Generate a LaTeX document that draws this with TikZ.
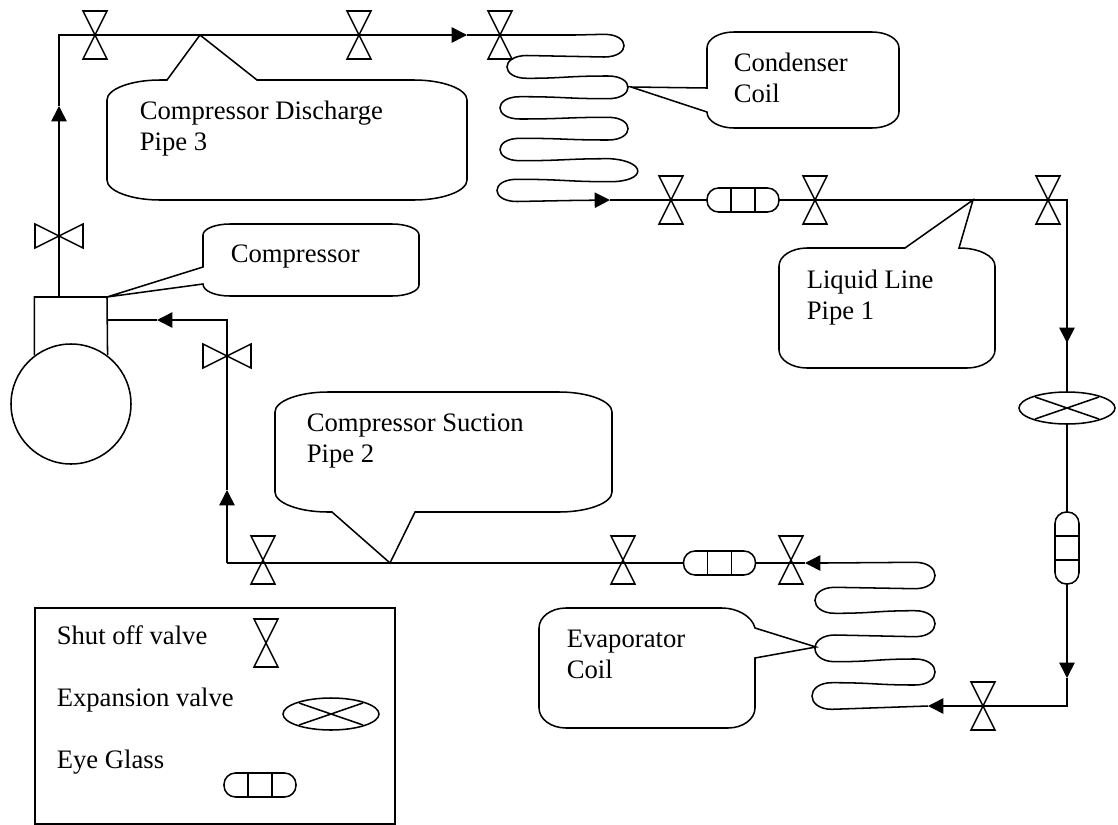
\documentclass[tikz,border=0pt]{standalone}
\usepackage{fontspec}
\setmainfont{Liberation Serif}
\usetikzlibrary{arrows.meta,shapes.geometric,calc}

\tikzset{
  every picture/.style={line width=1.15pt},
  pipe/.style={draw,line join=miter},
  flow/.style={-{Triangle[length=11.5pt,width=11.5pt]}},
  balloontext/.style={anchor=north west,inner sep=0pt,align=left,font=\fontsize{20}{23.25}\selectfont},
  shutv/.pic={\draw (-12,-24) -- (12,-24) -- (-12,24) -- (12,24) -- cycle;},
  eyeglass/.pic={\draw[fill=white,rounded corners=8.6pt] (-36,-12) rectangle (36,12);
    \draw (-12,-12) -- (-12,12) (12,-12) -- (12,12);},
  expv/.pic={\draw[fill=white] (0,0) ellipse [x radius=48,y radius=16];
    \draw (-32,-11) -- (32,11) (-32,11) -- (32,-11);}
}

\begin{document}
\begin{tikzpicture}[x=0.75pt,y=0.75pt,yscale=-1,xscale=1]
\useasboundingbox (0,0) rectangle (1118,825);

%Valves and fittings on the loop
\coordinate (vDisA) at (59,236);
\coordinate (vTopA) at (95,35);
\coordinate (vTopB) at (359,35);
\coordinate (vTopC) at (500,35);
\coordinate (vLiqA) at (671,200);
\coordinate (eyeLiq) at (743,200);
\coordinate (vLiqB) at (815,200);
\coordinate (vLiqC) at (1048,200);
\coordinate (cornerTR) at (1067,200);
\coordinate (expIn) at (1067,408);
\coordinate (eyeRight) at (1067,548);
\coordinate (cornerBR) at (1067,706);
\coordinate (vEvaIn) at (983,706);
\coordinate (vEvaOut) at (791,563);
\coordinate (eyeSuc) at (719.5,563);
\coordinate (vSucA) at (623,563);
\coordinate (vSucB) at (263,563);
\coordinate (cornerBL) at (227,563);
\coordinate (vSucC) at (227,356);
\coordinate (cornerSuc) at (227,320);
\coordinate (compIn) at (107,320);
\coordinate (compOut) at (59,297);
\coordinate (cornerTL) at (59,35);

%Flow arrow points
\coordinate (tipUp) at (59,106);
\coordinate (tipTop) at (467,35);
\coordinate (tipCond) at (610,200);
\coordinate (tipLiq) at (1067,343);
\coordinate (tipRight) at (1067,678);
\coordinate (tipEvaIn) at (928,706);
\coordinate (tipEvaOut) at (805,563);
\coordinate (tipSuc) at (227,490);
\coordinate (tipComp) at (157,320);

%Compressor
\node[draw,circle,minimum size=90pt,inner sep=0pt] (comp) at (71,404) {};
\coordinate (boxTR) at (107,297);
\draw[pipe] (comp.127) |- (boxTR) -- (comp.53);

%Discharge line
\draw[pipe,flow] (compOut) -- (tipUp);
\draw[pipe,flow] (tipUp) -- (cornerTL) -- (tipTop);
\draw[pipe] (tipTop) -- (vTopC);

%Condenser coil
\draw[pipe] (vTopC) -- (575,35) -- (604,34.3) .. controls (630.7,34.3) and (630.7,57) .. (604,57)
  .. controls (565,57) and (565,55.5) .. (527,55.5) .. controls (500.3,55.5) and (500.3,78.3) .. (527,78.3)
  .. controls (565,78.3) and (565,76) .. (608,76) .. controls (634.7,76) and (634.7,98.7) .. (608,98.7)
  .. controls (565,98.7) and (565,96.7) .. (520,96.7) .. controls (493.3,96.7) and (493.3,119) .. (520,119)
  .. controls (565,119) and (565,117.3) .. (608,117.3) .. controls (634.7,117.3) and (634.7,140) .. (608,140)
  .. controls (565,140) and (565,138.3) .. (520,138.3) .. controls (493.3,138.3) and (493.3,160.7) .. (520,160.7)
  .. controls (565,160.7) and (565,158.7) .. (610,158.7) .. controls (647,161) and (647,181.7) .. (610,181.7)
  .. controls (565,181.7) and (565,179.3) .. (517,179.3) .. controls (490.3,179.3) and (490.3,201.5) .. (517,201.5) -- (570,200.5);
\draw[pipe,flow] (570,200.5) -- (tipCond);

%Liquid line
\draw[pipe] (tipCond) -- (vLiqA) -- (eyeLiq) -- (vLiqB) -- (vLiqC) -- (cornerTR) -- (expIn);
\draw[pipe,flow] (cornerTR) -- (tipLiq);
\draw[pipe] (expIn) -- (eyeRight);
\draw[pipe,flow] (eyeRight) -- (tipRight);
\draw[pipe,flow] (tipRight) -- (cornerBR) -- (tipEvaIn);

%Evaporator coil
\draw[pipe] (tipEvaIn) -- (832,709.3) .. controls (805.3,709.3) and (805.3,682.7) .. (832,682.7)
  .. controls (875,682.7) and (875,685) .. (915,685) .. controls (941.7,685) and (941.7,659) .. (915,659)
  .. controls (875,659) and (875,661.7) .. (835,661.7) .. controls (808.3,661.7) and (808.3,635) .. (835,635)
  .. controls (875,635) and (875,636.7) .. (915,636.7) .. controls (941.7,636.7) and (941.7,610.7) .. (915,610.7)
  .. controls (875,610.7) and (875,613.3) .. (835,613.3) .. controls (808.3,613.3) and (808.3,587.3) .. (835,587.3)
  .. controls (875,587.3) and (875,588.7) .. (915,588.7) .. controls (941.7,588.7) and (941.7,562.3) .. (915,562.3) -- (825,563);
\draw[pipe,flow] (825,563) -- (tipEvaOut);

%Suction line
\draw[pipe] (tipEvaOut) -- (vEvaOut) -- (eyeSuc) -- (vSucA) -- (vSucB) -- (cornerBL);
\draw[pipe,flow] (cornerBL) -- (tipSuc);
\draw[pipe,flow] (tipSuc) -- (cornerSuc) -- (tipComp);
\draw[pipe] (tipComp) -- (compIn);

%Shape: Shut off valves
\foreach \v in {vTopA,vTopB,vTopC,vLiqA,vLiqB,vLiqC}
  \pic at (\v) {shutv};
\pic at (vEvaIn) {shutv};
\pic at ($(vEvaOut)+(0,-3)$) {shutv};
\pic at ($(vSucA)+(0,-3)$) {shutv};
\pic at ($(vSucB)+(0,-3)$) {shutv};
\pic[rotate=90] at (vDisA) {shutv};
\pic[rotate=90] at (vSucC) {shutv};

%Shape: Eye glasses and expansion valve
\pic at (eyeLiq) {eyeglass};
\pic at (eyeSuc) {eyeglass};
\pic[rotate=90] at (eyeRight) {eyeglass};
\pic at (expIn) {expv};

%Shape: Callouts
\coordinate (ptDis) at (200,35);
\draw (ptDis) -- (257,80) -- (414,80) .. controls (443,80) and (467,89) .. (467,100) -- (467,180)
  .. controls (467,191) and (443,200) .. (414,200) -- (160,200) .. controls (131,200) and (107,191) .. (107,180)
  -- (107,100) .. controls (107,89) and (131,80) .. (160,80) -- (167,80) -- cycle;
\coordinate (ptCond) at (631,87);
\draw (ptCond) -- (707,88) -- (707,48) .. controls (707,39) and (719,32) .. (734,32) -- (872,32)
  .. controls (887,32) and (899,39) .. (899,48) -- (899,112) .. controls (899,121) and (887,128) .. (872,128)
  -- (734,128) .. controls (719,128) and (707,121) .. (707,112) -- cycle;
\coordinate (ptLiq) at (973,200);
\draw (ptLiq) -- (959,248) .. controls (979,248) and (995,256) .. (995,266) -- (995,350)
  .. controls (995,360) and (982,368) .. (967,368) -- (807,368) .. controls (792,368) and (779,360) .. (779,350)
  -- (779,266) .. controls (779,256) and (792,248) .. (807,248) -- (905,248) -- cycle;
\coordinate (ptComp) at (107,297);
\draw (ptComp) -- (203,267) -- (203,235) .. controls (203,229) and (215,224) .. (230,224) -- (392,224)
  .. controls (407,224) and (419,229) .. (419,235) -- (419,285) .. controls (419,291) and (407,296) .. (392,296)
  -- (230,296) .. controls (215,296) and (203,291) .. (203,284) -- cycle;
\coordinate (ptSuc) at (390,563);
\draw (ptSuc) -- (332,512) -- (328,512) .. controls (299,512) and (275,503) .. (275,492) -- (275,412)
  .. controls (275,401) and (299,392) .. (328,392) -- (559,392) .. controls (588,392) and (612,401) .. (612,412)
  -- (612,492) .. controls (612,503) and (588,512) .. (559,512) -- (415,512) -- cycle;
\coordinate (ptEva) at (816,647);
\draw (ptEva) -- (755,628) .. controls (752,616) and (737,608) .. (722,608) -- (566,608)
  .. controls (551,608) and (539,617) .. (539,628) -- (539,708) .. controls (539,719) and (551,728) .. (566,728)
  -- (728,728) .. controls (743,728) and (755,719) .. (755,708) -- (755,658) -- cycle;

%Legend
\node[draw,minimum width=270pt,minimum height=162pt,inner sep=0pt] (legend) at (215,716) {};
\coordinate (keyValve) at (266,643);
\coordinate (keyExp) at (331,714);
\coordinate (keyEye) at (260,785);
\pic at (keyValve) {shutv};
\pic at (keyExp) {expv};
\pic at (keyEye) {eyeglass};

% Text Node
\node[balloontext] (txtDis) at (139,100) {Compressor Discharge\\Pipe 3};
% Text Node
\node[balloontext] (txtCond) at (733,52) {Condenser\\Coil};
% Text Node
\node[balloontext] (txtComp) at (230,244) {Compressor};
% Text Node
\node[balloontext] (txtLiq) at (806,269) {Liquid Line\\Pipe 1};
% Text Node
\node[balloontext] (txtSuc) at (306,413) {Compressor Suction\\Pipe 2};
% Text Node
\node[balloontext] (txtEva) at (566,629) {Evaporator\\Coil};
% Text Node
\node[balloontext] (txtShut) at (56,625) {Shut off valve};
% Text Node
\node[balloontext] (txtExp) at (56,687) {Expansion valve};
% Text Node
\node[balloontext] (txtEye) at (56,749) {Eye Glass};

\end{tikzpicture}
\end{document}
